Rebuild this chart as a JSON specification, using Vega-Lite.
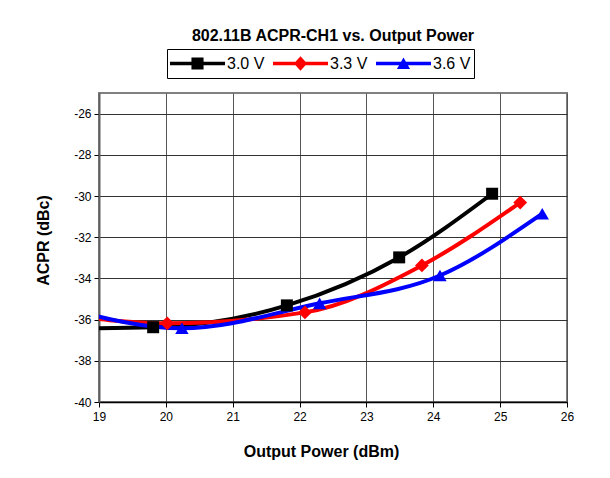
{
  "$schema": "https://vega.github.io/schema/vega-lite/v6.json",
  "width": 468,
  "height": 309,
  "autosize": "none",
  "padding": {"left": 99, "top": 93, "right": 43, "bottom": 76},
  "background": "white",
  "title": {
    "text": "802.11B ACPR-CH1 vs. Output Power",
    "font": "Liberation Sans",
    "fontSize": 16,
    "fontWeight": "bold",
    "color": "black",
    "anchor": "middle",
    "frame": "group",
    "offset": 5
  },
  "data": {
    "values": [
      {"series": "3.0 V", "x": 18.0, "y": -36.45},
      {"series": "3.0 V", "x": 19.81, "y": -36.37},
      {"series": "3.0 V", "x": 21.81, "y": -35.31},
      {"series": "3.0 V", "x": 23.49, "y": -32.98},
      {"series": "3.0 V", "x": 24.88, "y": -29.89},
      {"series": "3.3 V", "x": 18.3, "y": -35.7},
      {"series": "3.3 V", "x": 20.02, "y": -36.18},
      {"series": "3.3 V", "x": 22.08, "y": -35.65},
      {"series": "3.3 V", "x": 23.83, "y": -33.37},
      {"series": "3.3 V", "x": 25.3, "y": -30.32},
      {"series": "3.6 V", "x": 18.5, "y": -35.45},
      {"series": "3.6 V", "x": 20.24, "y": -36.42},
      {"series": "3.6 V", "x": 22.3, "y": -35.21},
      {"series": "3.6 V", "x": 24.1, "y": -33.86},
      {"series": "3.6 V", "x": 25.63, "y": -30.86}
    ]
  },
  "encoding": {
    "x": {
      "field": "x",
      "type": "quantitative",
      "scale": {"domain": [19, 26], "nice": false, "zero": false},
      "axis": {
        "title": "Output Power (dBm)",
        "values": [19, 20, 21, 22, 23, 24, 25, 26],
        "grid": true,
        "gridColor": "#555555",
        "gridWidth": 1,
        "tickColor": "black",
        "tickSize": 5,
        "tickWidth": 1,
        "domainColor": "black",
        "domainWidth": 1.5,
        "labelFont": "Liberation Sans",
        "labelFontSize": 12,
        "labelColor": "black",
        "labelPadding": 4,
        "labelFlush": false,
        "labelOverlap": false,
        "titleFont": "Liberation Sans",
        "titleFontSize": 16,
        "titleFontWeight": "bold",
        "titleColor": "black",
        "titleX": 222,
        "titleY": 54,
        "titleBaseline": "alphabetic",
        "titleAlign": "center"
      }
    },
    "y": {
      "field": "y",
      "type": "quantitative",
      "scale": {"domain": [-40, -25], "nice": false, "zero": false},
      "axis": {
        "title": "ACPR (dBc)",
        "values": [-40, -38, -36, -34, -32, -30, -28, -26],
        "labelExpr": "toString(datum.value)",
        "grid": true,
        "gridColor": "#333333",
        "gridWidth": 1,
        "tickColor": "black",
        "tickSize": 5,
        "tickWidth": 1,
        "domainColor": "#606060",
        "domainWidth": 2,
        "labelFont": "Liberation Sans",
        "labelFontSize": 12,
        "labelColor": "black",
        "labelPadding": 3,
        "labelOverlap": false,
        "titleFont": "Liberation Sans",
        "titleFontSize": 16,
        "titleFontWeight": "bold",
        "titleColor": "black",
        "titleX": -56,
        "titleY": 147,
        "titleAngle": -90,
        "titleBaseline": "middle",
        "titleAlign": "center"
      }
    },
    "color": {
      "field": "series",
      "type": "nominal",
      "scale": {"domain": ["3.0 V", "3.3 V", "3.6 V"], "range": ["#000000", "#FF0000", "#0000FF"]},
      "legend": {
        "title": null,
        "orient": "none",
        "legendX": 68,
        "legendY": -44,
        "direction": "horizontal",
        "symbolSize": 3025,
        "clipHeight": 23,
        "padding": 3,
        "strokeColor": "black",
        "fillColor": "white",
        "labelFont": "Liberation Sans",
        "labelFontSize": 16,
        "labelColor": "black",
        "labelOffset": 2,
        "columnPadding": 8,
        "symbolOffset": 0,
        "encode": {
          "symbols": {
            "update": {
              "shape": {"signal": "datum.value === '3.0 V' ? 'M-1,-0.065H1V0.065H-1Z M-0.22,-0.22H0.22V0.22H-0.22Z' : datum.value === '3.3 V' ? 'M-1,-0.065H1V0.065H-1Z M0,-0.26L0.24,0L0,0.26L-0.24,0Z' : 'M-1,-0.065H1V0.065H-1Z M0,-0.22L0.24,0.2H-0.24Z'"},
              "size": {"value": 3025},
              "fill": {"scale": "color", "field": "value"},
              "stroke": {"value": "transparent"},
              "strokeWidth": {"value": 0},
              "opacity": {"value": 1}
            }
          }
        }
      }
    }
  },
  "layer": [
    {
      "mark": {"type": "line", "interpolate": "monotone", "strokeWidth": 4, "clip": true}
    },
    {
      "transform": [{"filter": "datum.series === '3.0 V'"}],
      "mark": {"type": "point", "filled": true, "opacity": 1, "clip": true, "shape": "square", "size": 144}
    },
    {
      "transform": [{"filter": "datum.series === '3.3 V'"}],
      "mark": {"type": "point", "filled": true, "opacity": 1, "clip": true, "shape": "diamond", "size": 190}
    },
    {
      "transform": [{"filter": "datum.series === '3.6 V'"}],
      "mark": {"type": "point", "filled": true, "opacity": 1, "clip": true, "shape": "triangle-up", "size": 180}
    }
  ],
  "config": {
    "view": {"stroke": "#808080", "strokeWidth": 2, "fill": "white"}
  }
}
